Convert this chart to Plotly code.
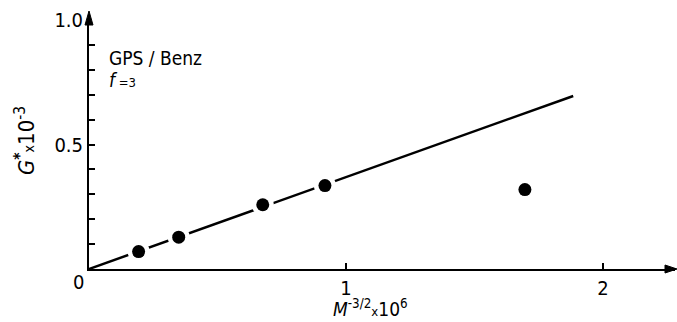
import plotly.graph_objects as go

# data
x_pts = [0.193, 0.349, 0.676, 0.918, 1.696]
y_pts = [0.070, 0.128, 0.258, 0.335, 0.319]
line_x = [0.0, 1.884]
line_y = [0.0, 0.695]
x_tickvals = [1, 2]
x_ticktext = ["1", "2"]
y_tickvals = [0.1, 0.2, 0.3, 0.4, 0.5, 0.6, 0.7, 0.8, 0.9, 1.0]
y_ticktext = ["", "", "", "", "0.5", "", "", "", "", "1.0"]

FONT = "Liberation Sans Narrow, Arial Narrow, DejaVu Sans Condensed, sans-serif"

W, H = 677, 322
L, R, T, B = 89, 2, 20, 53
PW, PH = W - L - R, H - T - B


def px(x, y):
    return (x - L) / PW, (H - B - y) / PH


fig = go.Figure()
fig.add_trace(go.Scatter(x=line_x, y=line_y, mode="lines",
                         line=dict(color="black", width=2.5), showlegend=False))
fig.add_trace(go.Scatter(x=x_pts, y=y_pts, mode="markers",
                         marker=dict(color="white", size=22, line=dict(width=0)),
                         showlegend=False))
fig.add_trace(go.Scatter(x=x_pts, y=y_pts, mode="markers",
                         marker=dict(color="black", size=13, line=dict(width=0)),
                         showlegend=False))

fig.update_layout(
    width=W, height=H,
    margin=dict(l=L, r=R, t=T, b=B),
    paper_bgcolor="white", plot_bgcolor="white",
    font=dict(family=FONT, size=20, color="black"),
    xaxis=dict(range=[0, 2.28], showgrid=False, zeroline=False,
               showline=True, linecolor="black", linewidth=2,
               ticks="inside", ticklen=6, tickwidth=1.5, tickcolor="black",
               tickvals=x_tickvals, ticktext=x_ticktext,
               tickfont=dict(size=20)),
    yaxis=dict(range=[0, 1.0], showgrid=False, zeroline=False,
               showline=True, linecolor="black", linewidth=2,
               ticks="inside", ticklen=6, tickwidth=1.5, tickcolor="black",
               tickvals=y_tickvals, ticktext=y_ticktext,
               tickfont=dict(size=20)),
)


def tri(p0, p1, p2):
    a, b, c = px(*p0), px(*p1), px(*p2)
    return f"M {a[0]},{a[1]} L {b[0]},{b[1]} L {c[0]},{c[1]} Z"


# axis arrows: extend axis lines and add heads
x0, y0 = px(89, 269)
fig.add_shape(type="line", xref="paper", yref="paper", x0=x0, y0=1.0, x1=x0,
              y1=px(89, 22)[1], line=dict(color="black", width=2))
fig.add_shape(type="path", xref="paper", yref="paper",
              path=tri((89, 11), (85, 25), (93, 25)),
              fillcolor="black", line=dict(color="black", width=1))
fig.add_shape(type="line", xref="paper", yref="paper", x0=px(670, 269)[0],
              y0=y0, x1=px(675, 269)[0], y1=y0, line=dict(color="black", width=2))
fig.add_shape(type="path", xref="paper", yref="paper",
              path=tri((677, 269), (665, 265), (665, 273)),
              fillcolor="black", line=dict(color="black", width=1))

# origin label
fig.add_annotation(x=0, y=0, xref="x", yref="y", text="0", showarrow=False,
                   xshift=-11, yshift=-13, font=dict(size=20))

# in-plot text
gx, gy = px(107, 58)
fig.add_annotation(x=gx, y=gy, xref="paper", yref="paper", text="GPS / Benz",
                   showarrow=False, xanchor="left", yanchor="middle",
                   font=dict(size=19))
fx, fy = px(107, 80)
fig.add_annotation(x=fx, y=fy, xref="paper", yref="paper",
                   text="<i>f</i><span style='font-size:13px'> =3</span>",
                   showarrow=False, xanchor="left", yanchor="middle",
                   font=dict(size=19))

# axis titles
mx, my = px(370, 308)
fig.add_annotation(x=mx, y=my, xref="paper", yref="paper",
                   text="<i>M</i><sup>-3/2</sup><span style='font-size:13px'>x</span>10<sup>6</sup>",
                   showarrow=False, xanchor="center", yanchor="middle",
                   font=dict(size=19))
yx, yy = px(25, 141)
fig.add_annotation(x=yx, y=yy, xref="paper", yref="paper",
                   text="<i>G</i><sup><b>*</b></sup><span style='font-size:14px'>x</span>10<sup>-3</sup>",
                   showarrow=False, xanchor="center", yanchor="middle",
                   textangle=-90, font=dict(size=22))

fig.write_html("out.html")
